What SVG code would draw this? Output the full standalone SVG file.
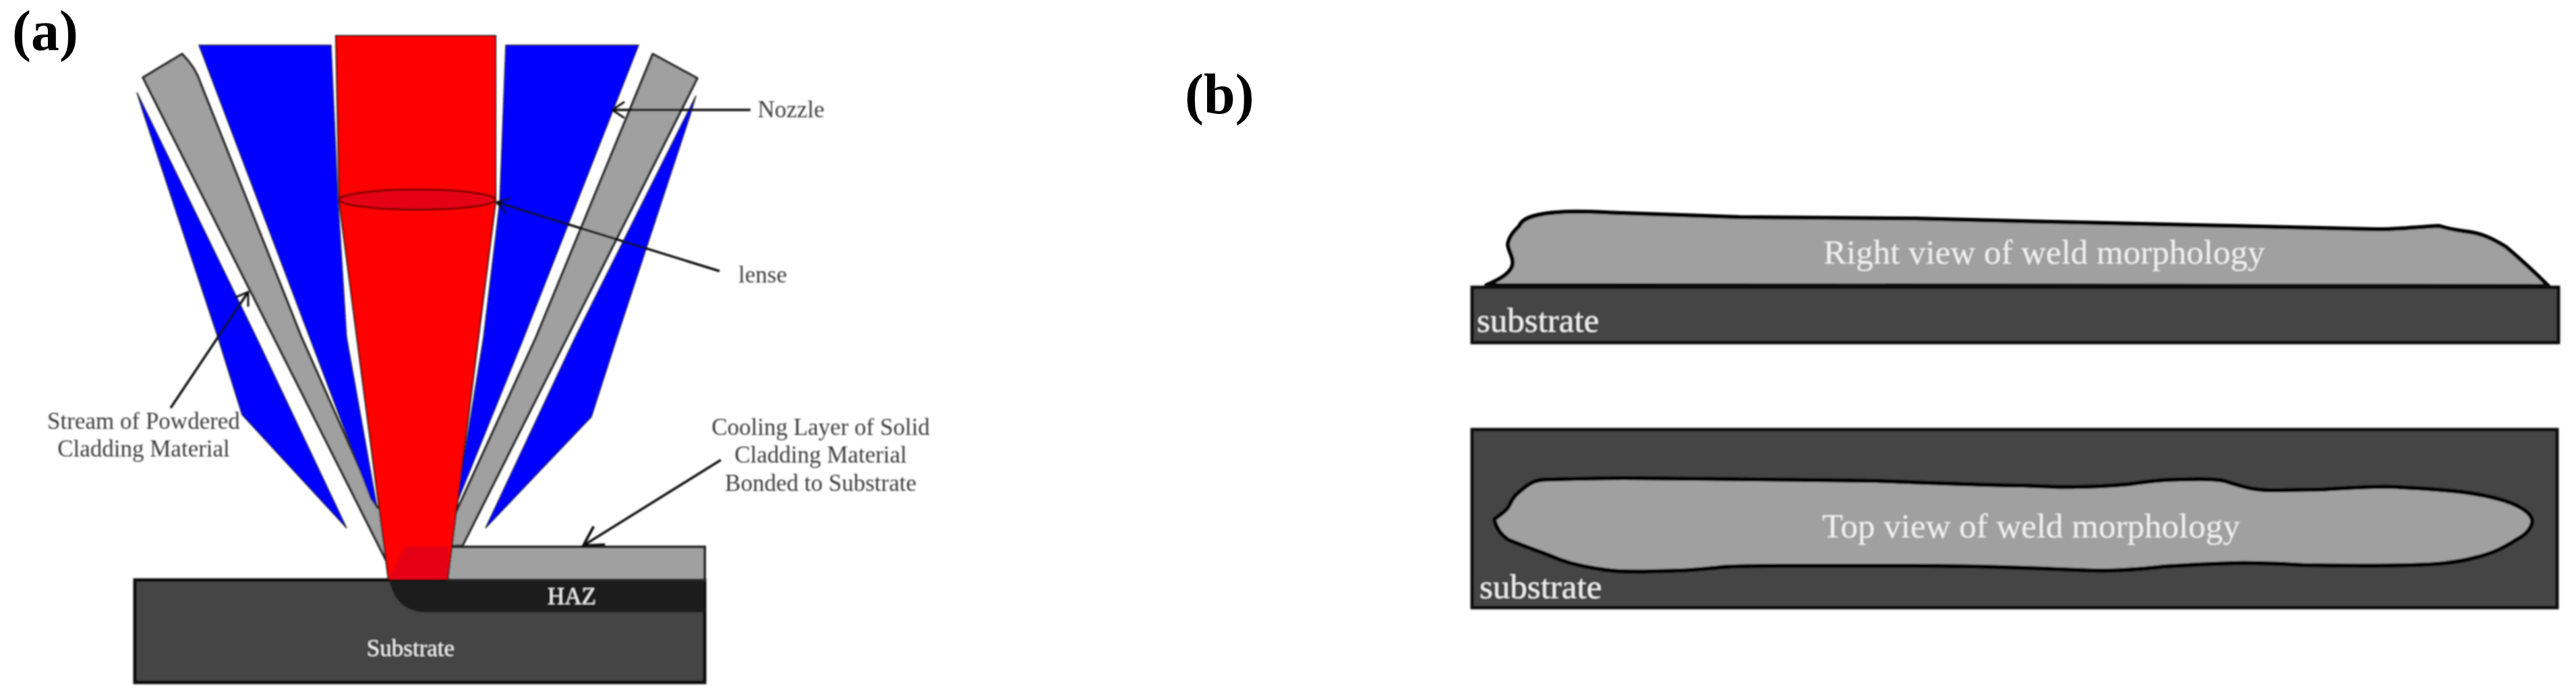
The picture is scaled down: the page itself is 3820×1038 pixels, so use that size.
<svg xmlns="http://www.w3.org/2000/svg" width="3820" height="1038" viewBox="0 0 3820 1038">
<defs>
<filter id="soft" filterUnits="userSpaceOnUse" x="0" y="0" width="3820" height="1038"><feGaussianBlur stdDeviation="0.8"/></filter>
<marker id="head" markerUnits="userSpaceOnUse" markerWidth="44" markerHeight="44" refX="30" refY="22" orient="auto" overflow="visible">
<path d="M12,10 L30,22 L12,34" fill="none" stroke="#111" stroke-width="3"/>
</marker>
<marker id="headb" markerUnits="userSpaceOnUse" markerWidth="60" markerHeight="60" refX="40" refY="30" orient="auto" overflow="visible">
<path d="M12,14 L40,30 L12,46" fill="none" stroke="#111" stroke-width="4"/>
</marker>
</defs>
<style>
text{font-family:"Liberation Serif","Times New Roman",serif}
.soft{filter:url(#soft)}
.lab{font-size:35px;fill:#3c3c3c;text-anchor:middle}
.inv{font-size:35px;fill:#f0f0f0;text-anchor:middle}
.big{font-size:51px;fill:#f0f0f0}
.panel{font-size:84px;font-weight:bold;fill:#000}
.blue{fill:#0000ff;stroke:#222;stroke-width:1.5}
.gray{fill:#a0a0a0;stroke:#2a2a2a;stroke-width:3.5;stroke-linejoin:round}
.red{fill:#ff0000;stroke:#111;stroke-width:2}
.sub{fill:#444;stroke:#111;stroke-width:5}
.weld{fill:#a0a0a0;stroke:#000;stroke-width:6;stroke-linejoin:round}
.arrow{fill:none;stroke:#111;stroke-width:3.5}
</style>
<rect width="3820" height="1038" fill="#fff"/>

<g id="panel-a-label"><text class="panel" x="18" y="74">(a)</text></g>
<g id="panel-b-label"><text class="panel" x="1757" y="168">(b)</text></g>

<g class="soft">
<g id="substrate-a">
<rect class="sub" x="200" y="860" width="845" height="152"/>
<path d="M577,860 C584,890 600,908 635,908 L1044,908 L1044,862 L577,862 Z" fill="#1a1a1a"/>
<text class="inv" x="609" y="973">Substrate</text>
<text class="inv" x="848" y="896">HAZ</text>
</g>
<g id="clad-layer"><rect x="664" y="811" width="381" height="49" fill="#a0a0a0" stroke="#2a2a2a" stroke-width="4"/></g>

<g id="powder-left"><path class="blue" d="M203,137 L214,172 L323,500 L359,615 L514,783 L380,500 Z"/></g>
<g id="powder-right"><path class="blue" d="M1032,142 L1023,172 L915,500 L877,618 L720,783 L853,500 Z"/></g>
<g id="nozzle-left"><path class="gray" d="M270,80 L212,115 L572,830 L590,830 L580,760 L559,752 L447,500 L298,125 C292,105 282,92 270,80 Z"/></g>
<g id="nozzle-right"><path class="gray" d="M968,80 L1034,116 L686,809 L664,810 L660,780 L671,771 L795,500 Z"/></g>
<g id="inner-blue-left"><path class="blue" d="M295,67 L491,67 L501,293 L514,500 L559,752 L550,740 Z"/></g>
<g id="inner-blue-right"><path class="blue" d="M750,67 L947,67 L777,500 L677,747 L717,500 L741,300 Z"/></g>

<g id="laser">
<path class="red" d="M498,53 L735,53 L735,300 L664,860 L576,860 L503,300 Z"/>
<path d="M600,810 L665,810 L664,859 L577,859 Z" fill="#e60012"/>
</g>
<g id="lens"><ellipse cx="619" cy="296" rx="116" ry="15" fill="#e60012" stroke="#7a0000" stroke-width="3"/></g>

<g id="connectors">
<line class="arrow" x1="1113" y1="163" x2="908" y2="163" marker-end="url(#head)"/>
<line class="arrow" x1="1067" y1="402" x2="737" y2="300" marker-end="url(#head)"/>
<line class="arrow" x1="253" y1="605" x2="368" y2="433" marker-end="url(#head)"/>
<line class="arrow" x1="1069" y1="682" x2="865" y2="809" marker-end="url(#headb)"/>
</g>

<g id="labels-a">
<text class="lab" x="1173" y="174">Nozzle</text>
<text class="lab" x="1131" y="419">lense</text>
<text class="lab" x="213" y="636">Stream of Powdered</text>
<text class="lab" x="213" y="677">Cladding Material</text>
<text class="lab" x="1217" y="645">Cooling Layer of Solid</text>
<text class="lab" x="1217" y="686">Cladding Material</text>
<text class="lab" x="1217" y="728">Bonded to Substrate</text>
</g>

<g id="right-view">
<path class="weld" d="M2204,423 C2222,415 2236,408 2242,396 C2247,384 2236,372 2236,362 C2238,350 2246,342 2253,335 C2258,322 2280,316 2322,314 C2350,313 2380,315 2408,316 L2580,322 L2839,324 L3000,328 L3261,334 L3523,340 C3550,341 3590,336 3617,335 C3630,339 3640,341 3655,343 C3675,345 3690,350 3716,366 C3735,382 3765,410 3779,424 Z"/>
<rect class="sub" x="2183" y="426" width="1611" height="82"/>
<text class="big" x="2704" y="391">Right view of weld morphology</text>
<text class="big" x="2190" y="492">substrate</text>
</g>

<g id="top-view">
<rect class="sub" x="2183" y="637" width="1609" height="264"/>
<path class="weld" d="M2216,770 C2226,762 2234,758 2238,750 C2244,735 2252,730 2262,722 C2274,712 2285,711 2300,711 C2340,710 2380,709 2408,709 L2609,711 L2781,713 C2860,716 2950,720 3000,720 C3040,722 3060,723 3078,722 C3110,722 3135,720 3157,718 C3190,713 3215,711 3235,711 C3260,710 3285,710 3298,713 C3320,720 3340,727 3366,727 C3390,727 3420,726 3444,726 C3490,723 3520,721 3549,722 C3590,724 3625,726 3654,730 C3690,735 3720,742 3738,753 C3752,761 3756,768 3755,775 C3752,786 3745,793 3732,800 C3712,813 3695,821 3670,827 C3640,835 3610,837 3575,838 C3520,839 3470,839 3418,838 C3380,836 3345,834 3314,835 C3275,836 3240,838 3209,840 C3175,844 3140,847 3105,846 C3070,845 3035,843 3000,842 C2945,840 2890,839 2839,839 L2638,839 C2610,839 2580,839 2552,841 C2520,845 2485,847 2454,847 C2425,848 2400,848 2380,845 C2355,841 2335,838 2311,829 C2285,818 2262,811 2236,800 C2225,792 2218,782 2216,770 Z"/>
<text class="big" x="2702" y="797">Top view of weld morphology</text>
<text class="big" x="2194" y="887">substrate</text>
</g>
</g>
</svg>
